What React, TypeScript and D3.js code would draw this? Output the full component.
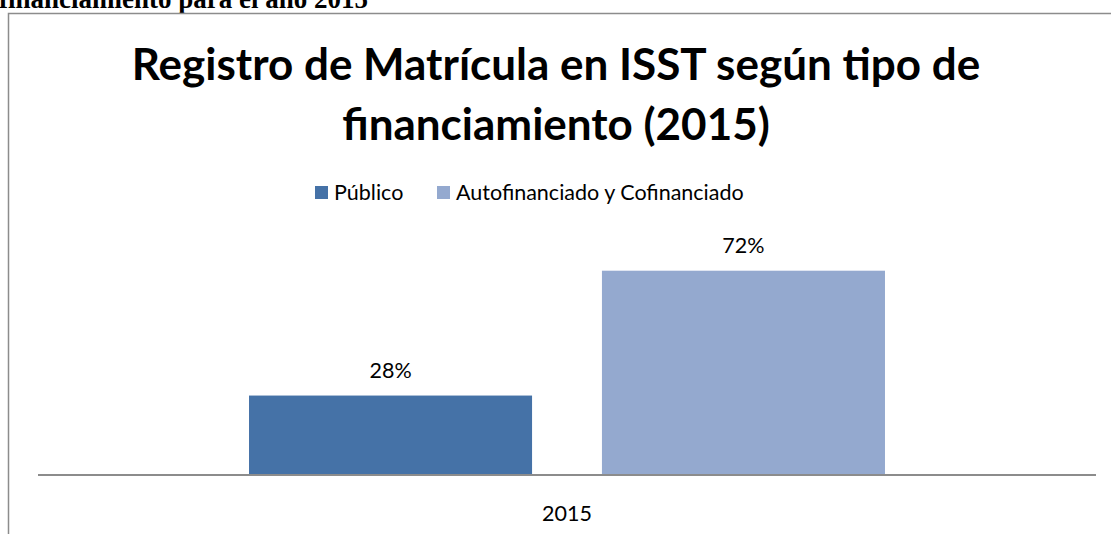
import React from 'react';
import * as d3 from 'd3';

// data
const years = ['2015'];
const series = ['Público', 'Autofinanciado y Cofinanciado'];
const values = [0.28, 0.72];
const colors = ['#4572A7', '#94A9CF'];

const W = 1111, H = 534;

export default function App() {
    // axis runs from 38 to 1096, zero line at y=475
    const x0 = d3.scaleBand().domain(years).range([38, 1096]).paddingInner(0).paddingOuter(0.3318);
    const x1 = d3.scaleBand().domain(series).range([0, x0.bandwidth()]).paddingInner(0.198).paddingOuter(0);
    const y = d3.scaleLinear().domain([0, 0.8]).range([475, 248]);
    const fmt = d3.format('.0%');

    const sans = 'Lato, "Open Sans", sans-serif';
    const small = 21.5;

    return (
        <div style={{ position: 'absolute', left: 0, top: 0 }}>
            <svg width={W} height={H} style={{ display: 'block' }}>
                <rect x={0} y={0} width={W} height={H} fill="#fff" />
                {/* caption of the document, cut off at the top */}
                <text x={-1} y={8} fontFamily='"Liberation Serif", "Times New Roman", serif' fontWeight="bold" fontSize={27} fill="#000">
                    financiamiento para el año 2015
                </text>
                {/* chart frame */}
                <rect x={8.5} y={13.5} width={W + 20} height={H + 20} fill="none" stroke="#8c8c8c" strokeWidth={1.5} />

                <text x={556} y={80} textAnchor="middle" fontFamily={sans} fontWeight="bold" fontSize={44} fill="#000">
                    Registro de Matrícula en ISST según tipo de
                </text>
                <text x={556} y={140} textAnchor="middle" fontFamily={sans} fontWeight="bold" fontSize={44} fill="#000">
                    financiamiento (2015)
                </text>

                {/* legend */}
                <g fontFamily={sans} fontSize={small} fill="#000">
                    <rect x={315} y={186} width={13} height={13} fill={colors[0]} />
                    <text x={334} y={200}>{series[0]}</text>
                    <rect x={437} y={186} width={13} height={13} fill={colors[1]} />
                    <text x={456} y={200}>{series[1]}</text>
                </g>

                {/* bars */}
                {years.map(yr => (
                    <g key={yr} transform={`translate(${x0(yr)},0)`}>
                        {series.map((s, i) => (
                            <g key={s}>
                                <rect x={x1(s)} y={y(values[i])} width={x1.bandwidth()} height={y(0) - y(values[i])} fill={colors[i]} />
                                <text x={(x1(s) as number) + x1.bandwidth() / 2} y={y(values[i]) - 18} textAnchor="middle"
                                    fontFamily={sans} fontSize={small} fill="#000">{fmt(values[i])}</text>
                            </g>
                        ))}
                    </g>
                ))}

                {/* category axis */}
                <line x1={38} x2={1096} y1={475} y2={475} stroke="#8c8c8c" strokeWidth={2} />
                {years.map(yr => (
                    <text key={yr} x={(x0(yr) as number) + x0.bandwidth() / 2} y={521} textAnchor="middle"
                        fontFamily={sans} fontSize={small} fill="#000">{yr}</text>
                ))}
            </svg>
        </div>
    );
}
